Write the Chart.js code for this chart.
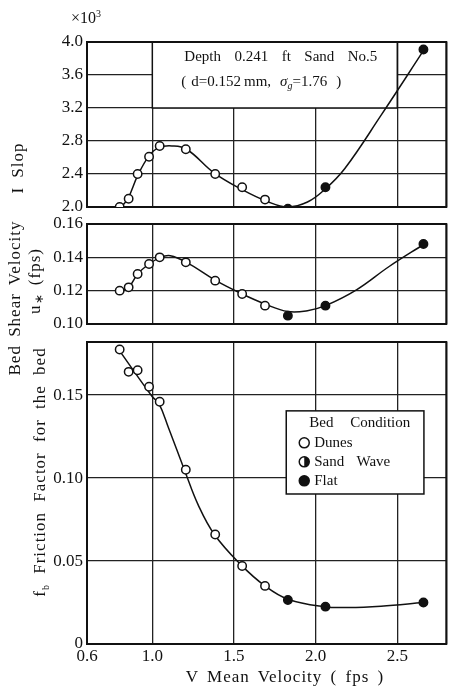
<!DOCTYPE html>
<html lang="en">
<head>
<meta charset="UTF-8" />
<title>Depth 0.241 ft Sand No.5</title>
<script src="https://cdn.jsdelivr.net/npm/chart.js"></script>
<style>
  body { margin: 0; background: #fff; color: #111; font-family: "Liberation Serif", serif; }
  #wrap { position: relative; width: 452px; height: 686px; overflow: hidden; }
  canvas { position: absolute; left: 0; }
  .lbl { position: absolute; white-space: nowrap; font-size: 17px; transform: translate(-50%, -50%); }
  .rot { transform: translate(-50%, -50%) rotate(-90deg); }
</style>
</head>
<body>
<div id="wrap">
  <canvas id="slopeChart" width="452" height="230" style="top:0"></canvas>
  <canvas id="shearChart" width="452" height="140" style="top:200px"></canvas>
  <canvas id="frictionChart" width="452" height="366" style="top:320px"></canvas>

  <div class="lbl" style="left:86px;top:18px;font-size:16px">×10<span style="font-size:10px;position:relative;top:-6px">3</span></div>
  <div class="lbl rot" style="left:18px;top:168px;letter-spacing:1px;word-spacing:4px">I Slop</div>
  <div class="lbl rot" style="left:15px;top:298px;letter-spacing:1px;word-spacing:3px">Bed Shear Velocity</div>
  <div class="lbl rot" style="left:35px;top:281px;letter-spacing:1px;word-spacing:3px">u<span style="font-size:12px;position:relative;top:3px">∗</span> (fps)</div>
  <div class="lbl rot" style="left:40px;top:472px;letter-spacing:1px;word-spacing:5px">f<span style="font-size:10px;position:relative;top:4px">b</span> Friction Factor for the bed</div>
  <div class="lbl" style="left:285px;top:677px;letter-spacing:1px;word-spacing:3px">V Mean Velocity ( fps )</div>
</div>

<script>
  // --- data ---
  const velocity = [0.80, 0.855, 0.91, 0.98, 1.045, 1.205, 1.385, 1.55, 1.69, 1.83, 2.06, 2.66];
  const bedCondition = ["D", "D", "D", "D", "D", "D", "D", "D", "D", "F", "F", "F"];

  const slope = [2.00, 2.10, 2.40, 2.61, 2.74, 2.70, 2.40, 2.24, 2.09, 1.98, 2.24, 3.91];
  const shearVel = [0.120, 0.122, 0.130, 0.136, 0.140, 0.137, 0.126, 0.118, 0.111, 0.105, 0.111, 0.148];
  const friction = [0.1775, 0.164, 0.165, 0.155, 0.146, 0.105, 0.066, 0.047, 0.035, 0.0265, 0.0225, 0.025];

  // hand-drawn fitted curves
  const slopeCurveV = [0.80, 0.85, 0.91, 0.98, 1.04, 1.12, 1.21, 1.38, 1.55, 1.70, 1.83, 1.95, 2.06, 2.18, 2.40, 2.665];
  const slopeCurve = [1.98, 2.10, 2.38, 2.62, 2.72, 2.74, 2.70, 2.41, 2.21, 2.07, 2.00, 2.06, 2.22, 2.47, 3.11, 3.91];

  const shearCurveV = [0.80, 0.855, 0.91, 0.98, 1.05, 1.11, 1.21, 1.39, 1.55, 1.69, 1.83, 1.95, 2.06, 2.25, 2.45, 2.665];
  const shearCurve = [0.120, 0.122, 0.130, 0.136, 0.140, 0.141, 0.137, 0.126, 0.118, 0.112, 0.1075, 0.108, 0.111, 0.1205, 0.1345, 0.148];

  const frictionCurveV = [0.79, 1.00, 1.04, 1.10, 1.20, 1.28, 1.38, 1.54, 1.69, 1.83, 2.05, 2.20, 2.40, 2.66];
  const frictionCurve = [0.178, 0.149, 0.145, 0.130, 0.104, 0.084, 0.066, 0.048, 0.035, 0.027, 0.0225, 0.022, 0.0228, 0.025];

  const xTicks = [0.6, 1.0, 1.5, 2.0, 2.5, 2.8];
  const xTickLabels = ["0.6", "1.0", "1.5", "2.0", "2.5", ""];
  const slopeTicks = [2.0, 2.4, 2.8, 3.2, 3.6, 4.0];
  const shearTicks = [0.10, 0.12, 0.14, 0.16];
  const frictionTicks = [0, 0.05, 0.10, 0.15];
  const frictionTickLabels = ["0", "0.05", "0.10", "0.15"];

  const noteWords = ["Depth", "0.241", "ft", "Sand", "No.5"];
  const legendTitle = ["Bed", "Condition"];
  const legendItems = [["O", "Dunes"], ["H", "Sand Wave"], ["F", "Flat"]];

  // --- helpers ---
  const INK = "#111";
  const FONT = '"Liberation Serif", serif';

  function put(ctx, txt, x, y) {
    ctx.fillText(txt, x, y);
    return x + ctx.measureText(txt).width;
  }

  function spread(ctx, words, x, y, width) {
    const sum = words.reduce((s, w) => s + ctx.measureText(w).width, 0);
    const gap = (width - sum) / (words.length - 1);
    words.forEach(w => { x = put(ctx, w, x, y) + gap; });
  }

  function marker(ctx, kind, x, y, r) {
    ctx.beginPath();
    ctx.arc(x, y, r, 0, Math.PI * 2);
    ctx.fillStyle = kind === "F" ? INK : "#fff";
    ctx.fill();
    ctx.lineWidth = 1.5;
    ctx.strokeStyle = INK;
    ctx.stroke();
    if (kind === "H") {
      ctx.beginPath();
      ctx.arc(x, y, r, -Math.PI / 2, Math.PI / 2);
      ctx.closePath();
      ctx.fillStyle = INK;
      ctx.fill();
    }
  }

  const frame = {
    id: "frame",
    beforeDatasetsDraw(chart) {
      const { ctx, chartArea: a } = chart;
      ctx.save();
      ctx.strokeStyle = INK;
      ctx.lineWidth = 2;
      ctx.strokeRect(a.left, a.top, a.width, a.height);
      ctx.restore();
    }
  };

  const slopeNote = {
    id: "slopeNote",
    beforeDatasetsDraw(chart) {
      const { ctx, scales: { x, y } } = chart;
      const l = x.getPixelForValue(1.0), r = x.getPixelForValue(2.5);
      const t = y.getPixelForValue(4.0), b = y.getPixelForValue(3.2);
      ctx.save();
      ctx.fillStyle = "#fff";
      ctx.fillRect(l, t, r - l, b - t);
      ctx.strokeStyle = INK;
      ctx.lineWidth = 1.5;
      ctx.strokeRect(l, t, r - l, b - t);
      ctx.fillStyle = INK;
      ctx.textBaseline = "middle";
      ctx.font = "15px " + FONT;
      spread(ctx, noteWords, l + 32, t + 15, 193);
      let cx = l + 29;
      const cy = t + 40;
      cx = put(ctx, "(", cx, cy) + 5;
      cx = put(ctx, "d=0.152", cx, cy) + 3;
      cx = put(ctx, "mm,", cx, cy) + 9;
      ctx.font = "italic 15px " + FONT;
      cx = put(ctx, "σ", cx, cy);
      ctx.font = "italic 10px " + FONT;
      cx = put(ctx, "g", cx, cy + 4);
      ctx.font = "15px " + FONT;
      cx = put(ctx, "=1.76", cx, cy) + 9;
      put(ctx, ")", cx, cy);
      ctx.restore();
    }
  };

  const bedLegend = {
    id: "bedLegend",
    beforeDatasetsDraw(chart) {
      const { ctx, scales: { x, y } } = chart;
      const l = x.getPixelForValue(1.82), r = x.getPixelForValue(2.663);
      const t = y.getPixelForValue(0.1405), b = y.getPixelForValue(0.0904);
      ctx.save();
      ctx.fillStyle = "#fff";
      ctx.fillRect(l, t, r - l, b - t);
      ctx.strokeStyle = INK;
      ctx.lineWidth = 1.5;
      ctx.strokeRect(l, t, r - l, b - t);
      ctx.fillStyle = INK;
      ctx.textBaseline = "middle";
      ctx.font = "15px " + FONT;
      spread(ctx, legendTitle, l + 23, t + 12, 101);
      legendItems.forEach(([kind, name], i) => {
        const ry = t + 32 + i * 19;
        marker(ctx, kind, l + 18, ry, 5);
        ctx.fillStyle = INK;
        ctx.font = "15px " + FONT;
        if (name.includes(" ")) spread(ctx, name.split(" "), l + 28, ry, 76);
        else put(ctx, name, l + 28, ry);
      });
      ctx.restore();
    }
  };

  // --- chart builders ---
  const gridStyle = { color: "#222", lineWidth: 1.3, drawTicks: false };
  const tickFont = { family: "Liberation Serif", size: 17 };

  function xScale(height, showLabels) {
    return {
      type: "linear", min: 0.6, max: 2.8,
      afterBuildTicks: s => { s.ticks = xTicks.map(v => ({ value: v })); },
      afterFit: s => { s.height = height; },
      grid: gridStyle,
      border: { display: false },
      ticks: {
        display: showLabels, autoSkip: false, maxRotation: 0, padding: 2,
        color: INK, font: tickFont,
        callback: v => xTickLabels[xTicks.indexOf(v)]
      }
    };
  }

  function yScale(min, max, ticks, fmt) {
    return {
      type: "linear", min, max,
      afterBuildTicks: s => { s.ticks = ticks.map(v => ({ value: v })); },
      afterFit: s => { s.width = 87; },
      grid: gridStyle,
      border: { display: false },
      ticks: { padding: 4, color: INK, font: tickFont, callback: fmt }
    };
  }

  function datasets(values, curveV, curveY) {
    return [
      {
        data: velocity.map((v, i) => ({ x: v, y: values[i] })),
        showLine: false,
        pointRadius: 4.2,
        pointBorderWidth: 1.5,
        pointBorderColor: INK,
        pointBackgroundColor: bedCondition.map(c => c === "F" ? INK : "#fff"),
        order: 0
      },
      {
        data: curveV.map((v, i) => ({ x: v, y: curveY[i] })),
        borderColor: INK,
        borderWidth: 1.5,
        pointRadius: 0,
        tension: 0.4,
        fill: false,
        order: 1
      }
    ];
  }

  function makeChart(id, values, curveV, curveY, padTop, xHeight, showX, yOpts, extra) {
    return new Chart(document.getElementById(id), {
      type: "line",
      data: { datasets: datasets(values, curveV, curveY) },
      options: {
        responsive: false,
        animation: false,
        events: [],
        layout: { padding: { top: padTop, right: 1, left: 0, bottom: 0 } },
        plugins: { legend: { display: false }, tooltip: { enabled: false } },
        scales: { x: xScale(xHeight, showX), y: yOpts }
      },
      plugins: extra.concat([frame])
    });
  }

  makeChart("slopeChart", slope, slopeCurveV, slopeCurve, 42, 23, false,
    yScale(2.0, 4.0, slopeTicks, v => v.toFixed(1)), [slopeNote]);

  makeChart("shearChart", shearVel, shearCurveV, shearCurve, 24, 16, false,
    yScale(0.10, 0.16, shearTicks, v => v.toFixed(2)), []);

  makeChart("frictionChart", friction, frictionCurveV, frictionCurve, 22, 42, true,
    yScale(0, 0.182, frictionTicks, v => frictionTickLabels[frictionTicks.indexOf(v)]), [bedLegend]);
</script>
</body>
</html>
